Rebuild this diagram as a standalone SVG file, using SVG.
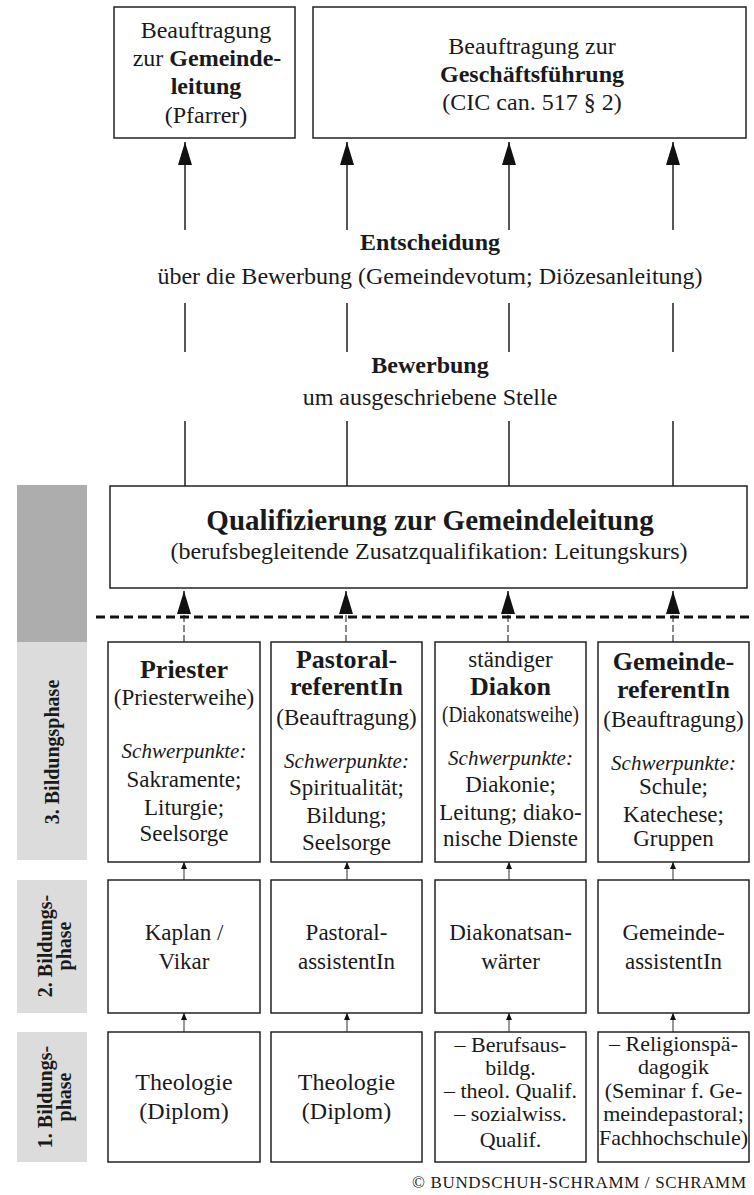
<svg xmlns="http://www.w3.org/2000/svg" width="754" height="1195" viewBox="0 0 754 1195">
<style>
text{font-family:"Liberation Serif","Times New Roman",serif;fill:#1a1a1a;text-anchor:middle}
.t{font-size:24px}
.b{font-weight:bold}
.box{fill:#fff;stroke:#222;stroke-width:1.5}
.ln{stroke:#111;stroke-width:1.4;fill:none}
.dl{stroke:#111;stroke-width:1;fill:none;stroke-dasharray:7 3}
.sm{stroke:#333;stroke-width:1;fill:none}
.hd{font-size:26px;font-weight:bold}
.bd{font-size:23px}
.it{font-size:21px;font-style:italic}
.ph{font-size:20px;font-weight:bold}
.r1{font-size:22px}
</style>
<defs>
<marker id="big" markerUnits="userSpaceOnUse" markerWidth="24" markerHeight="14" refX="23" refY="7" orient="auto" viewBox="0 0 24 14"><path d="M0,0 L23,7 L0,14 Z" fill="#111"/></marker>
<marker id="small" markerUnits="userSpaceOnUse" markerWidth="8" markerHeight="6" refX="7" refY="3" orient="auto" viewBox="0 0 8 6"><path d="M0,0 L7,3 L0,6 Z" fill="#111"/></marker>
</defs>

<g id="phase-bars">
<rect x="17" y="485" width="70" height="157" fill="#adadad"/>
<rect x="17" y="642" width="70" height="218" fill="#dcdcdc"/>
<rect x="17" y="880" width="70" height="133" fill="#dcdcdc"/>
<rect x="17" y="1032" width="70" height="130" fill="#dcdcdc"/>
<text class="ph" transform="translate(59,752) rotate(-90)">3. Bildungsphase</text>
<text class="ph" transform="translate(52,946) rotate(-90)">2. Bildungs-</text>
<text class="ph" transform="translate(71,946) rotate(-90)">phase</text>
<text class="ph" transform="translate(52,1097) rotate(-90)">1. Bildungs-</text>
<text class="ph" transform="translate(71,1097) rotate(-90)">phase</text>
</g>

<g id="connectors">
<path class="ln" d="M185,230 V142" marker-end="url(#big)"/>
<path class="ln" d="M347,230 V142" marker-end="url(#big)"/>
<path class="ln" d="M509,230 V142" marker-end="url(#big)"/>
<path class="ln" d="M673,230 V142" marker-end="url(#big)"/>
<path class="ln" d="M185,303 V352 M347,303 V352 M509,303 V352 M673,303 V352"/>
<path class="ln" d="M185,421 V486 M347,421 V486 M509,421 V486 M673,421 V486"/>
<path class="ln" d="M184,613 V591" marker-end="url(#big)"/>
<path class="ln" d="M346,613 V591" marker-end="url(#big)"/>
<path class="ln" d="M508,613 V591" marker-end="url(#big)"/>
<path class="ln" d="M673,613 V591" marker-end="url(#big)"/>
<path class="dl" d="M184,642 V614 M346,642 V614 M508,642 V614 M673,642 V614"/>
<path d="M96,617 H754" stroke="#111" stroke-width="3" stroke-dasharray="9 5" fill="none"/>
<path class="sm" d="M184,880 V862" marker-end="url(#small)"/>
<path class="sm" d="M347,880 V862" marker-end="url(#small)"/>
<path class="sm" d="M509,880 V862" marker-end="url(#small)"/>
<path class="sm" d="M673,880 V862" marker-end="url(#small)"/>
<path class="sm" d="M184,1032 V1013" marker-end="url(#small)"/>
<path class="sm" d="M347,1032 V1013" marker-end="url(#small)"/>
<path class="sm" d="M509,1032 V1013" marker-end="url(#small)"/>
<path class="sm" d="M673,1032 V1013" marker-end="url(#small)"/>
</g>

<g id="labels">
<text class="t b" x="430" y="250">Entscheidung</text>
<text class="t" x="430" y="284">über die Bewerbung (Gemeindevotum; Diözesanleitung)</text>
<text class="t b" x="430" y="373">Bewerbung</text>
<text class="t" x="430" y="405">um ausgeschriebene Stelle</text>
</g>

<g id="node-pfarrer">
<rect class="box" x="114" y="7" width="181" height="131"/>
<text class="t" x="206" y="38">Beauftragung</text>
<text class="t" x="207" y="66">zur <tspan class="b">Gemeinde-</tspan></text>
<text class="t b" x="206" y="94">leitung</text>
<text class="t" x="206" y="123">(Pfarrer)</text>
</g>

<g id="node-geschaeftsfuehrung">
<rect class="box" x="313" y="7" width="433" height="131"/>
<text class="t" x="532" y="54">Beauftragung zur</text>
<text class="t b" x="532" y="82">Geschäftsführung</text>
<text class="t" x="532" y="110">(CIC can. 517 § 2)</text>
</g>

<g id="node-qualifizierung">
<rect class="box" x="110" y="486" width="637" height="102"/>
<text class="b" x="430" y="530" font-size="29">Qualifizierung zur Gemeindeleitung</text>
<text class="t" x="429" y="559">(berufsbegleitende Zusatzqualifikation: Leitungskurs)</text>
</g>

<g id="node-priester">
<rect class="box" x="108" y="642" width="152" height="220"/>
<text class="hd" x="184" y="678">Priester</text>
<text class="bd" x="184" y="705">(Priesterweihe)</text>
<text class="it" x="184" y="758">Schwerpunkte:</text>
<text class="bd" x="184" y="787">Sakramente;</text>
<text class="bd" x="184" y="815">Liturgie;</text>
<text class="bd" x="184" y="841">Seelsorge</text>
</g>

<g id="node-pastoralreferent">
<rect class="box" x="271" y="642" width="151" height="220"/>
<text class="hd" x="346.5" y="668">Pastoral-</text>
<text class="hd" x="346.5" y="695">referentIn</text>
<text class="bd" x="346.5" y="725">(Beauftragung)</text>
<text class="it" x="346.5" y="768">Schwerpunkte:</text>
<text class="bd" x="346.5" y="795">Spiritualität;</text>
<text class="bd" x="346.5" y="823">Bildung;</text>
<text class="bd" x="346.5" y="850">Seelsorge</text>
</g>

<g id="node-diakon">
<rect class="box" x="435" y="642" width="151" height="220"/>
<text class="bd" x="510.5" y="667">ständiger</text>
<text class="hd" x="510.5" y="695">Diakon</text>
<text class="bd" x="510.5" y="722" textLength="137" lengthAdjust="spacingAndGlyphs">(Diakonatsweihe)</text>
<text class="it" x="510.5" y="765">Schwerpunkte:</text>
<text class="bd" x="510.5" y="792">Diakonie;</text>
<text class="bd" x="510.5" y="820">Leitung; diako-</text>
<text class="bd" x="510.5" y="846">nische Dienste</text>
</g>

<g id="node-gemeindereferent">
<rect class="box" x="598" y="642" width="151" height="220"/>
<text class="hd" x="673.5" y="670">Gemeinde-</text>
<text class="hd" x="673.5" y="698">referentIn</text>
<text class="bd" x="673.5" y="727">(Beauftragung)</text>
<text class="it" x="673.5" y="770">Schwerpunkte:</text>
<text class="bd" x="673.5" y="794">Schule;</text>
<text class="bd" x="673.5" y="822">Katechese;</text>
<text class="bd" x="673.5" y="846">Gruppen</text>
</g>

<g id="node-kaplan">
<rect class="box" x="108" y="880" width="152" height="133"/>
<text class="bd" x="184" y="940">Kaplan /</text>
<text class="bd" x="184" y="969">Vikar</text>
</g>
<g id="node-pastoralassistent">
<rect class="box" x="271" y="880" width="151" height="133"/>
<text class="bd" x="346.5" y="940">Pastoral-</text>
<text class="bd" x="346.5" y="969">assistentIn</text>
</g>
<g id="node-diakonatsanwaerter">
<rect class="box" x="435" y="880" width="151" height="133"/>
<text class="bd" x="510.5" y="940">Diakonatsan-</text>
<text class="bd" x="510.5" y="969">wärter</text>
</g>
<g id="node-gemeindeassistent">
<rect class="box" x="598" y="880" width="151" height="133"/>
<text class="bd" x="673.5" y="940">Gemeinde-</text>
<text class="bd" x="673.5" y="969">assistentIn</text>
</g>

<g id="node-theologie-1">
<rect class="box" x="108" y="1032" width="152" height="130"/>
<text class="t" x="184" y="1090">Theologie</text>
<text class="t" x="184" y="1119">(Diplom)</text>
</g>
<g id="node-theologie-2">
<rect class="box" x="271" y="1032" width="151" height="130"/>
<text class="t" x="346.5" y="1090">Theologie</text>
<text class="t" x="346.5" y="1119">(Diplom)</text>
</g>
<g id="node-diakon-ausbildung">
<rect class="box" x="435" y="1032" width="151" height="130"/>
<text class="r1" x="510.5" y="1052">– Berufsaus-</text>
<text class="r1" x="510.5" y="1075">bildg.</text>
<text class="r1" x="510.5" y="1098">– theol. Qualif.</text>
<text class="r1" x="510.5" y="1121">– sozialwiss.</text>
<text class="r1" x="510.5" y="1147">Qualif.</text>
</g>
<g id="node-religionspaedagogik">
<rect class="box" x="598" y="1032" width="151" height="130"/>
<text class="r1" x="673.5" y="1051">– Religionspä-</text>
<text class="r1" x="673.5" y="1074">dagogik</text>
<text class="r1" x="673.5" y="1098">(Seminar f. Ge-</text>
<text class="r1" x="673.5" y="1121">meindepastoral;</text>
<text class="r1" x="673.5" y="1145">Fachhochschule)</text>
</g>

<text x="746" y="1188" font-size="17" style="text-anchor:end" textLength="334">© BUNDSCHUH-SCHRAMM / SCHRAMM</text>
</svg>
